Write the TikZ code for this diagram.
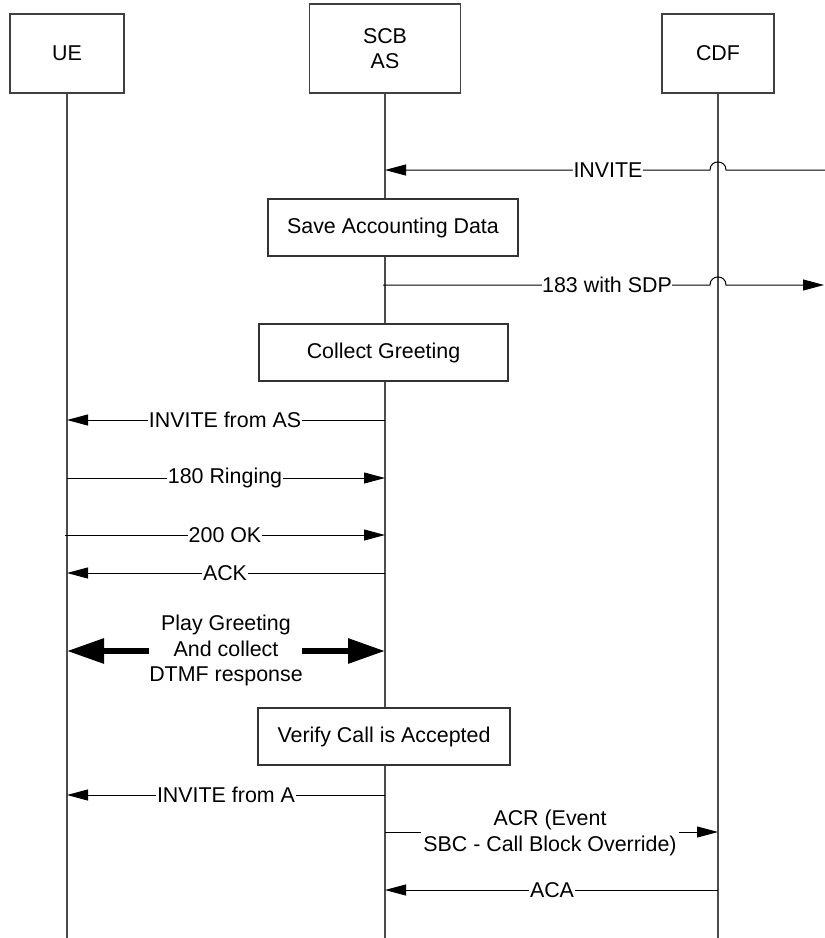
\documentclass[tikz,border=0pt]{standalone}
\usepackage{fontspec}
\setmainfont{Liberation Sans}
\usetikzlibrary{arrows.meta}
\begin{document}
\begin{tikzpicture}[x=1pt,y=-1pt,
  every node/.style={font=\fontsize{21.4}{25}\selectfont},
  entity/.style={draw=black!75, line width=1.3pt, fill=white, align=center, inner sep=0pt},
  actbox/.style={draw=black!80, line width=1.1pt, fill=white, minimum height=57pt, inner sep=0pt},
  life/.style={draw=black!70, line width=1.3pt},
  msg/.style={draw=black, line width=1pt, -{Triangle[length=21pt,width=11pt]}},
  bigmsg/.style={draw=black, line width=6pt, -{Triangle[length=37pt,width=24pt]}},
  lbl/.style={fill=white, inner sep=0.6pt, align=center}]
\useasboundingbox (0,0) rectangle (825,938);
\fill[white] (0,0) rectangle (825,938);

% entities
\node[entity, minimum width=114pt, minimum height=79pt] (ue) at (67,53.5) {UE};
\node[entity, minimum width=151pt, minimum height=89pt] (scb) at (385,48.5) {SCB\\AS};
\node[entity, minimum width=112pt, minimum height=79pt] (cdf) at (718,53.5) {CDF};

% lifelines
\coordinate (bot) at (0,938);
\draw[life] (ue.south) -- (ue |- bot);
\draw[life] (scb.south) -- (scb |- bot);
\draw[life] (cdf.south) -- (cdf |- bot);

% y levels
\coordinate (y1) at (0,170);
\coordinate (y2) at (0,285);
\coordinate (y5) at (0,420);
\coordinate (y6) at (0,478);
\coordinate (y7) at (0,535);
\coordinate (y8) at (0,573);
\coordinate (y9) at (0,651);
\coordinate (y11) at (0,795);
\coordinate (y12) at (0,832);
\coordinate (y13) at (0,890);

% 1 INVITE (from outside, jumping over CDF lifeline)
\coordinate (edge1) at (825,170);
\coordinate (j1r) at (726,170);
\coordinate (j1l) at (710,170);
\draw[msg] (edge1) -- (j1r) .. controls (726,159.3) and (710,159.3) .. (j1l) -- (scb |- y1);
\node[lbl] (invite1) at (608,170) {INVITE};

% 2 Save Accounting Data
\node[actbox, minimum width=250pt] (save) at (393,227.5) {Save Accounting Data};

% 3 183 with SDP
\coordinate (s183) at (383,285);
\coordinate (j2l) at (710,285);
\coordinate (j2r) at (726,285);
\coordinate (edge2) at (824,285);
\draw[msg] (s183) -- (j2l) .. controls (710,274.3) and (726,274.3) .. (j2r) -- (edge2);
\node[lbl] (m183) at (607,285) {183 with SDP};

% 4 Collect Greeting
\node[actbox, minimum width=249pt] (collect) at (383.5,352.5) {Collect Greeting};

% 5 INVITE from AS
\draw[msg] (scb |- y5) -- (ue |- y5);
\node[lbl] (invAS) at (225,420) {INVITE from AS};

% 6 180 Ringing
\draw[msg] (ue |- y6) -- (scb |- y6);
\node[lbl] (ring) at (225,478) {180 Ringing};

% 7 200 OK
\coordinate (s200) at (65,535);
\draw[msg] (s200) -- (scb |- y7);
\node[lbl] (ok) at (225,535) {200 OK};

% 8 ACK
\draw[msg] (scb |- y8) -- (ue |- y8);
\node[lbl] (ack) at (225,573) {ACK};

% 9 Play Greeting
\node[align=center, inner sep=0pt, font=\fontsize{21.4}{25.5}\selectfont] (play) at (226,650.5) {Play Greeting\\And collect\\DTMF response};
\coordinate (pl) at (149,651);
\coordinate (pr) at (302,651);
\draw[bigmsg] (pl) -- (ue |- y9);
\draw[bigmsg] (pr) -- (scb |- y9);

% 10 Verify Call is Accepted
\node[actbox, minimum width=252pt] (verify) at (384,736.5) {Verify Call is Accepted};

% 11 INVITE from A
\draw[msg] (scb |- y11) -- (ue |- y11);
\node[lbl] (invA) at (226,795) {INVITE from A};

% 12 ACR
\draw[msg] (scb |- y12) -- (cdf |- y12);
\node[lbl, inner sep=2pt, font=\fontsize{21.4}{26}\selectfont] (acr) at (550,833) {ACR (Event\\SBC - Call Block Override)};

% 13 ACA
\draw[msg] (cdf |- y13) -- (scb |- y13);
\node[lbl] (aca) at (552,890) {ACA};
\end{tikzpicture}
\end{document}
